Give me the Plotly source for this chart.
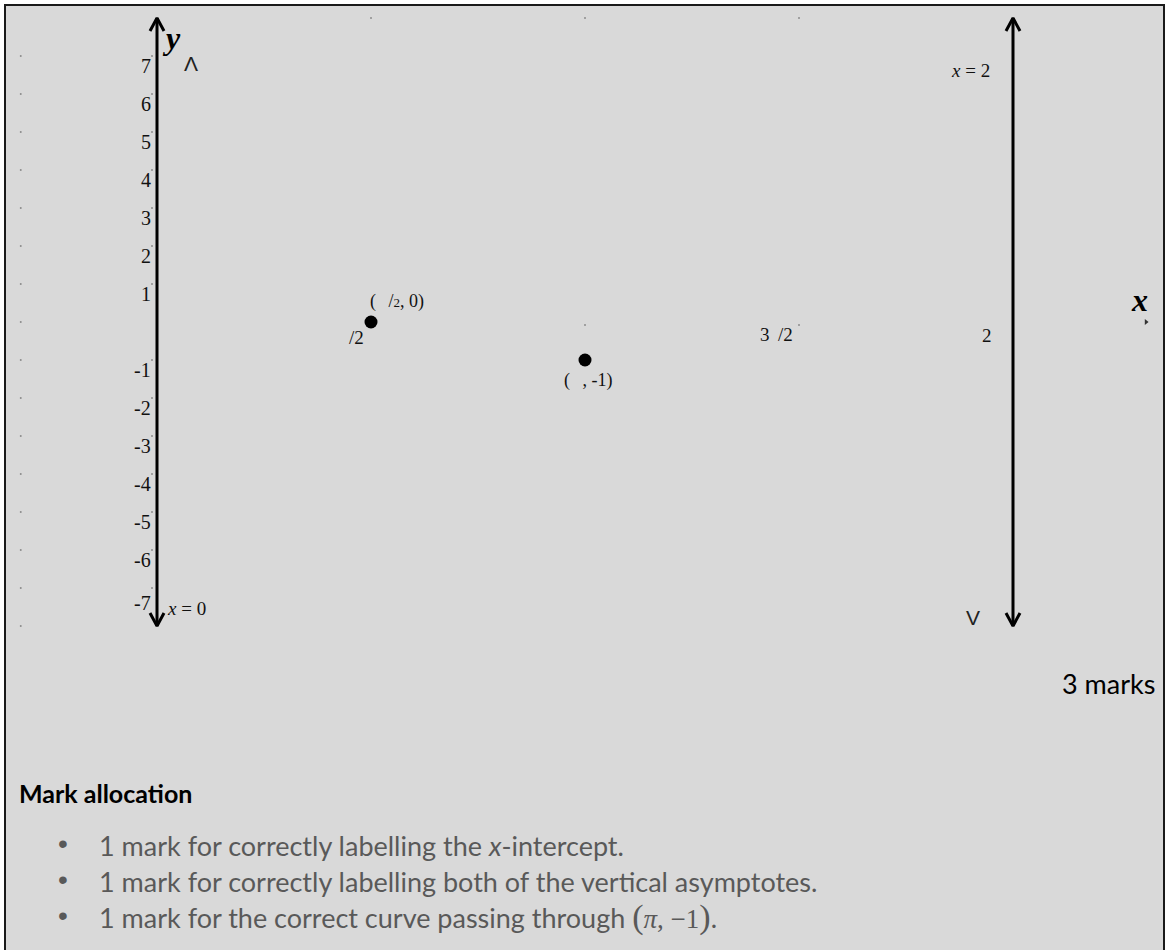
import math
import plotly.graph_objects as go

W, H = 1166, 950
PI = math.pi

# ---- data -------------------------------------------------------------
y_ticks = [7, 6, 5, 4, 3, 2, 1, -1, -2, -3, -4, -5, -6, -7]
y_tick_labels = ["7", "6", "5", "4", "3", "2", "1",
                 "-1", "-2", "-3", "-4", "-5", "-6", "-7"]
x_ticks = [PI / 2, PI, 3 * PI / 2, 2 * PI]
x_tick_labels = ["/2", "", "3 \u2009/2", "2"]
asymptotes = [0.0, 2 * PI]
asymptote_labels = ["<i>x</i> = 0", "<i>x</i> = 2"]
axis_y_extent = [-8, 8]
key_x = [PI / 2, PI]
key_y = [0, -1]
key_labels = ["(\u2002\u2009/<span style='font-size:13px'>2</span>, 0)",
              "(\u2002\u2009, -1)"]
frame_x = -1.0
frame_ticks_y = [7, 6, 5, 4, 3, 2, 1, 0, -1, -2, -3, -4, -5, -6, -7, -8]
x_axis_end = 7.26

marks_text = "3 marks"
heading = "Mark allocation"
criteria = [
    "1 mark for correctly labelling the <i>x</i>-intercept.",
    "1 mark for correctly labelling both of the vertical asymptotes.",
    "1 mark for the correct curve passing through "
    "<span style='font-family:Liberation Serif;font-size:34px'>(</span>"
    "<span style='font-family:Liberation Serif'><i>\u03c0</i>, \u22121</span>"
    "<span style='font-family:Liberation Serif;font-size:34px'>)</span>.",
]

# ---- page geometry (pixels) -----------------------------------------
X0_PX, Y0_PX = 157, 322          # where the origin sits on the page
KX = 214 / (PI / 2)              # pixels per x unit
KY = 38                          # pixels per y unit
x_range = [(0 - X0_PX) / KX, (W - X0_PX) / KX]
y_range = [(Y0_PX - H) / KY, Y0_PX / KY]

SERIF = "Liberation Serif"
SANS = "Lato"
INK = "#111111"


def paper(px, py):
    return px / W, 1 - py / H


fig = go.Figure()

# vertical asymptote lines with open chevron heads at both ends
head_dx = 7 / KX
head_dy = 13 / KY
lx, ly = [], []
for a in asymptotes:
    lo, hi = axis_y_extent
    lx += [a, a, None]
    ly += [lo, hi, None]
    lx += [a - head_dx, a, a + head_dx, None]
    ly += [hi - head_dy, hi, hi - head_dy, None]
    lx += [a - head_dx, a, a + head_dx, None]
    ly += [lo + head_dy, lo, lo + head_dy, None]
fig.add_trace(go.Scatter(x=lx, y=ly, mode="lines",
                         line=dict(color="#000000", width=3),
                         hoverinfo="skip", showlegend=False))

# faint tick dots: outer frame column, y-axis ticks, x-axis ticks
dot_x = [frame_x] * len(frame_ticks_y)
dot_y = list(frame_ticks_y)
dot_x += [-5 / KX] * len(y_ticks)
dot_y += list(y_ticks)
dot_x += x_ticks[:3]
dot_y += [axis_y_extent[1]] * 3
dot_x += x_ticks[1:3]
dot_y += [-0.08] * 2
fig.add_trace(go.Scatter(x=dot_x, y=dot_y, mode="markers",
                         marker=dict(size=2, color="#8c8c8c"),
                         hoverinfo="skip", showlegend=False))

# end of the x-axis
fig.add_trace(go.Scatter(x=[x_axis_end], y=[0], mode="markers",
                         marker=dict(symbol="triangle-right", size=5,
                                     color="#333333"),
                         hoverinfo="skip", showlegend=False))

# key points
fig.add_trace(go.Scatter(x=key_x, y=key_y, mode="markers",
                         marker=dict(size=13, color="#000000"),
                         hoverinfo="skip", showlegend=False))

ann = []

# y tick labels (the lowest one sits a little further down)
for v, t in zip(y_ticks, y_tick_labels):
    drop = -15 if v == min(y_ticks) else -10
    ann.append(dict(x=0, y=v, xref="x", yref="y", text=t, showarrow=False,
                    xanchor="right", yanchor="middle", xshift=-4, yshift=drop,
                    font=dict(family=SERIF, size=20, color=INK)))

# x tick labels
x_shifts = [(-15, -15), (0, 0), (-23, -12), (-26, -13)]
for v, t, (sx, sy) in zip(x_ticks, x_tick_labels, x_shifts):
    if not t:
        continue
    ann.append(dict(x=v, y=0, xref="x", yref="y", text=t, showarrow=False,
                    xanchor="center", yanchor="middle", xshift=sx, yshift=sy,
                    font=dict(family=SERIF, size=19, color=INK)))

# key point labels
kp_shifts = [(26, 21), (3, -20)]
for x, y, t, (sx, sy) in zip(key_x, key_y, key_labels, kp_shifts):
    ann.append(dict(x=x, y=y, xref="x", yref="y", text=t, showarrow=False,
                    xanchor="center", yanchor="middle", xshift=sx, yshift=sy,
                    font=dict(family=SERIF, size=18, color=INK)))


def note(text, px, py, size, family=SERIF, color=INK, xanchor="center"):
    x, y = paper(px, py)
    ann.append(dict(x=x, y=y, xref="paper", yref="paper", text=text,
                    showarrow=False, xanchor=xanchor, yanchor="middle",
                    font=dict(family=family, size=size, color=color)))


# asymptote labels
note(asymptote_labels[0], 186, 608, 19)
note(asymptote_labels[1], 970, 70, 19)

# axis names and stray marks
note("<b><i>y</i></b>", 171, 38, 32, color="#000000")
note("<b><i>x</i></b>", 1139, 300, 32, color="#000000")
note("\u039b", 191, 64, 21, family="Liberation Sans", color="#222222")
note("V", 973, 617, 21, family="Liberation Sans", color="#222222")

# marking notes
note(marks_text, 1157, 683, 27, family=SANS, color="#000000", xanchor="right")
note("<b>" + heading + "</b>", 17, 793, 25, family=SANS, color="#000000",
     xanchor="left")
for i, c in enumerate(criteria):
    cy = 845 + 36 * i
    note("\u2022", 63, cy - 2, 28, family="Liberation Sans", color="#595959")
    note(c, 97, cy, 27, family=SANS, color="#595959", xanchor="left")

fig.update_layout(
    width=W, height=H, autosize=False,
    margin=dict(l=0, r=0, t=0, b=0, pad=0),
    paper_bgcolor="#ffffff",
    plot_bgcolor="rgba(0,0,0,0)",
    xaxis=dict(range=x_range, visible=False, fixedrange=True),
    yaxis=dict(range=y_range, visible=False, fixedrange=True),
    showlegend=False,
    annotations=ann,
    shapes=[dict(type="rect", xref="paper", yref="paper", layer="below",
                 x0=5 / W, x1=1164 / W, y0=-0.02, y1=1 - 5 / H,
                 line=dict(color="#1a1a1a", width=2),
                 fillcolor="#d9d9d9")],
)

fig.write_html("out.html")
